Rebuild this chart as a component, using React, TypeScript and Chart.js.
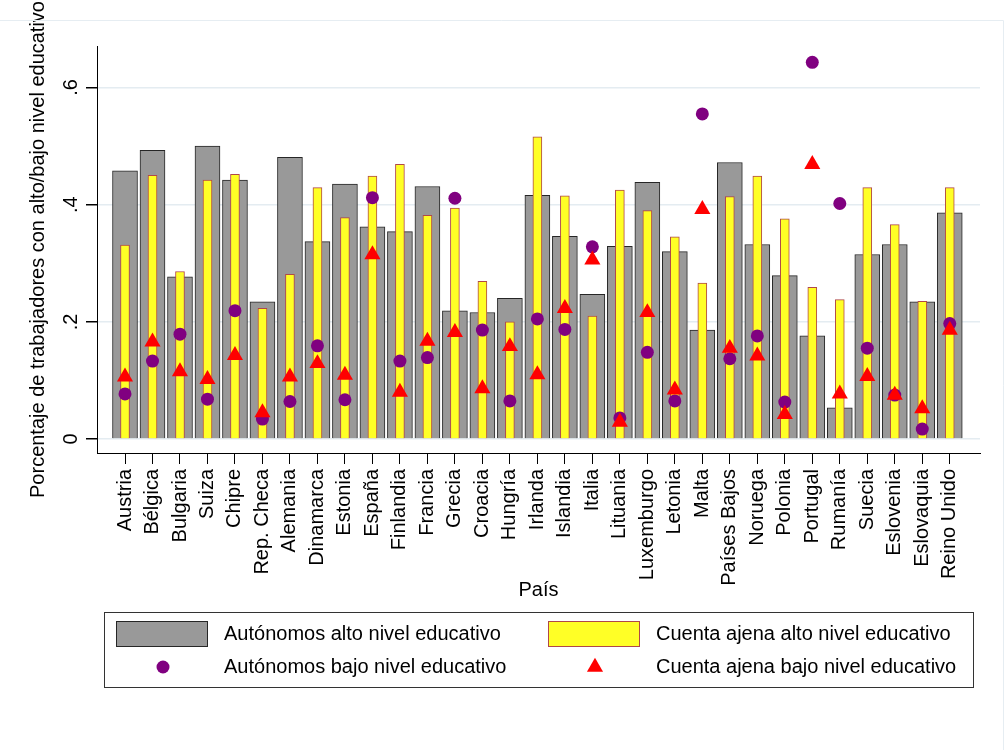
import React, { useEffect, useRef } from 'react';
import { Chart, registerables } from 'chart.js';

Chart.register(...registerables);

// Countries along the x axis
const countries = [
  'Austria', 'Bélgica', 'Bulgaria', 'Suiza', 'Chipre', 'Rep. Checa', 'Alemania',
  'Dinamarca', 'Estonia', 'España', 'Finlandia', 'Francia', 'Grecia', 'Croacia',
  'Hungría', 'Irlanda', 'Islandia', 'Italia', 'Lituania', 'Luxemburgo', 'Letonia',
  'Malta', 'Países Bajos', 'Noruega', 'Polonia', 'Portugal', 'Rumanía', 'Suecia',
  'Eslovenia', 'Eslovaquia', 'Reino Unido',
];

// Share of self-employed workers with high education (wide grey bars)
const autonomosAlto = [
  0.458, 0.493, 0.277, 0.500, 0.442, 0.234, 0.481, 0.337, 0.435, 0.362, 0.354,
  0.431, 0.219, 0.216, 0.240, 0.416, 0.346, 0.247, 0.329, 0.438, 0.320, 0.186,
  0.472, 0.332, 0.279, 0.176, 0.053, 0.315, 0.332, 0.234, 0.386,
];

// Share of employees with high education (narrow yellow bars)
const cuentaAjenaAlto = [
  0.331, 0.450, 0.286, 0.442, 0.452, 0.223, 0.281, 0.429, 0.378, 0.449, 0.469,
  0.382, 0.394, 0.269, 0.200, 0.516, 0.415, 0.210, 0.425, 0.390, 0.345, 0.266,
  0.414, 0.449, 0.376, 0.259, 0.238, 0.429, 0.366, 0.235, 0.429,
];

// Share of self-employed workers with low education (purple circles)
const autonomosBajo = [
  0.077, 0.133, 0.179, 0.068, 0.219, 0.034, 0.064, 0.159, 0.067, 0.412, 0.133,
  0.139, 0.411, 0.186, 0.065, 0.205, 0.187, 0.328, 0.036, 0.148, 0.065, 0.555,
  0.137, 0.176, 0.063, 0.643, 0.402, 0.155, 0.075, 0.017, 0.197,
];

// Share of employees with low education (red triangles)
const cuentaAjenaBajo = [
  0.106, 0.166, 0.115, 0.102, 0.143, 0.045, 0.106, 0.129, 0.109, 0.315, 0.080,
  0.167, 0.182, 0.086, 0.158, 0.110, 0.223, 0.306, 0.029, 0.216, 0.084, 0.392,
  0.155, 0.142, 0.042, 0.469, 0.077, 0.107, 0.075, 0.052, 0.186,
];

const yTickValues = [0, 0.2, 0.4, 0.6];
const yTickLabels = ['0', '.2', '.4', '.6'];

const seriesLabels = [
  'Autónomos alto nivel educativo',
  'Cuenta ajena alto nivel educativo',
  'Autónomos bajo nivel educativo',
  'Cuenta ajena bajo nivel educativo',
];

const FONT = "'Liberation Sans', Arial, Helvetica, sans-serif";

const toPoints = (values: number[]) => values.map((v, i) => ({ x: i, y: v }));

// Draws the rotated y tick labels, the boxed two-column legend and the outer frame
const decorations = {
  id: 'decorations',
  afterDraw(chart: any) {
    const { ctx, scales } = chart;
    const ds = chart.data.datasets;
    ctx.save();

    // faint outer frame
    ctx.strokeStyle = '#e6edf2';
    ctx.lineWidth = 1;
    ctx.beginPath();
    ctx.moveTo(0, 20.5);
    ctx.lineTo(1003.5, 20.5);
    ctx.lineTo(1003.5, 750);
    ctx.stroke();

    // y tick labels, rotated like the axis title
    ctx.fillStyle = '#000';
    ctx.font = `20px ${FONT}`;
    ctx.textAlign = 'center';
    ctx.textBaseline = 'alphabetic';
    yTickValues.forEach((v, i) => {
      const y = scales.y.getPixelForValue(v);
      ctx.save();
      ctx.translate(77, y);
      ctx.rotate(-Math.PI / 2);
      ctx.fillText(yTickLabels[i], 0, 0);
      ctx.restore();
    });

    // legend box
    const bx = 104.5, by = 612.5, bw = 869, bh = 75;
    ctx.fillStyle = '#fff';
    ctx.fillRect(bx, by, bw, bh);
    ctx.strokeStyle = '#333';
    ctx.lineWidth = 1;
    ctx.strokeRect(bx, by, bw, bh);

    const row1 = 634;
    const row2 = 667;
    const col1Sym = 116, col2Sym = 548;
    const col1Text = 224, col2Text = 656;

    // bar swatches
    ctx.fillStyle = ds[0].backgroundColor;
    ctx.fillRect(col1Sym, 621, 92, 26);
    ctx.strokeStyle = ds[0].borderColor;
    ctx.strokeRect(col1Sym + 0.5, 621.5, 91, 25);
    ctx.fillStyle = ds[1].backgroundColor;
    ctx.fillRect(col2Sym, 621, 92, 26);
    ctx.strokeStyle = ds[1].borderColor;
    ctx.strokeRect(col2Sym + 0.5, 621.5, 91, 25);

    // marker swatches
    ctx.fillStyle = ds[2].pointBackgroundColor;
    ctx.beginPath();
    ctx.arc(163, row2, ds[2].pointRadius, 0, Math.PI * 2);
    ctx.fill();
    const r = ds[3].pointRadius;
    const tx = 595;
    ctx.fillStyle = ds[3].pointBackgroundColor;
    ctx.beginPath();
    ctx.moveTo(tx, row2 - r);
    ctx.lineTo(tx + r * Math.sin((2 * Math.PI) / 3), row2 + r / 2);
    ctx.lineTo(tx - r * Math.sin((2 * Math.PI) / 3), row2 + r / 2);
    ctx.closePath();
    ctx.fill();

    // legend texts
    ctx.fillStyle = '#000';
    ctx.font = `20px ${FONT}`;
    ctx.textAlign = 'left';
    ctx.textBaseline = 'middle';
    ctx.fillText(seriesLabels[0], col1Text, row1);
    ctx.fillText(seriesLabels[1], col2Text, row1);
    ctx.fillText(seriesLabels[2], col1Text, row2);
    ctx.fillText(seriesLabels[3], col2Text, row2);

    ctx.restore();
  },
};

export default function App() {
  const canvasRef = useRef<HTMLCanvasElement | null>(null);

  useEffect(() => {
    const canvas = canvasRef.current;
    if (!canvas) return;

    const chart = new Chart(canvas, {
      type: 'bar',
      data: {
        datasets: [
          {
            type: 'bar',
            label: seriesLabels[0],
            data: toPoints(autonomosAlto),
            backgroundColor: '#999999',
            borderColor: '#262626',
            borderWidth: 1,
            borderSkipped: 'start',
            barThickness: 25,
            grouped: false,
            order: 4,
          },
          {
            type: 'bar',
            label: seriesLabels[1],
            data: toPoints(cuentaAjenaAlto),
            backgroundColor: '#ffff26',
            borderColor: '#b04848',
            borderWidth: 1,
            borderSkipped: 'start',
            barThickness: 9,
            grouped: false,
            order: 3,
          },
          {
            type: 'scatter',
            label: seriesLabels[2],
            data: toPoints(autonomosBajo),
            pointStyle: 'circle',
            pointRadius: 6.5,
            pointBackgroundColor: '#800080',
            pointBorderWidth: 0,
            showLine: false,
            order: 2,
          },
          {
            type: 'scatter',
            label: seriesLabels[3],
            data: toPoints(cuentaAjenaBajo),
            pointStyle: 'triangle',
            pointRadius: 9.3,
            pointBackgroundColor: '#ff0000',
            pointBorderWidth: 0,
            showLine: false,
            order: 1,
          },
        ] as any,
      },
      options: {
        responsive: false,
        animation: false,
        events: [],
        layout: { padding: { left: 0, top: 46, right: 28, bottom: 140 } },
        plugins: {
          legend: { display: false },
          tooltip: { enabled: false },
          title: { display: false },
        },
        scales: {
          x: {
            type: 'linear',
            offset: false,
            min: -1.0186,
            max: 31.1,
            afterBuildTicks: (scale: any) => {
              scale.ticks = countries.map((_, i) => ({ value: i }));
            },
            afterFit: (scale: any) => {
              scale.height = 157;
            },
            ticks: {
              autoSkip: false,
              minRotation: 90,
              maxRotation: 90,
              padding: 5,
              color: '#000',
              font: { family: FONT, size: 20 },
              callback: (v: any) => countries[v as number] ?? '',
            },
            grid: {
              offset: false,
              drawOnChartArea: false,
              drawTicks: true,
              tickLength: 11,
              tickColor: '#000',
            },
            border: { display: true, color: '#000', width: 1 },
            title: {
              display: true,
              text: 'País',
              color: '#000',
              font: { family: FONT, size: 20 },
              padding: { top: 0, bottom: 8 },
            },
          },
          y: {
            type: 'linear',
            min: -0.0239,
            max: 0.6709,
            afterBuildTicks: (scale: any) => {
              scale.ticks = yTickValues.map((v) => ({ value: v }));
            },
            afterFit: (scale: any) => {
              scale.width = 97;
            },
            ticks: { display: false },
            grid: {
              color: '#e4ecf1',
              lineWidth: 1.5,
              drawTicks: true,
              tickLength: 11,
              tickColor: '#000',
            },
            border: { display: true, color: '#000', width: 1 },
            title: {
              display: true,
              text: 'Porcentaje de trabajadores con alto/bajo nivel educativo',
              color: '#000',
              font: { family: FONT, size: 20 },
              padding: { top: 26, bottom: 0 },
            },
          },
        },
      },
      plugins: [decorations],
    } as any);

    return () => chart.destroy();
  }, []);

  return (
    <div
      style={{
        position: 'fixed',
        left: 0,
        top: 0,
        width: 1008,
        height: 750,
        background: '#fff',
      }}
    >
      <canvas ref={canvasRef} width={1008} height={750} style={{ display: 'block' }} />
    </div>
  );
}
